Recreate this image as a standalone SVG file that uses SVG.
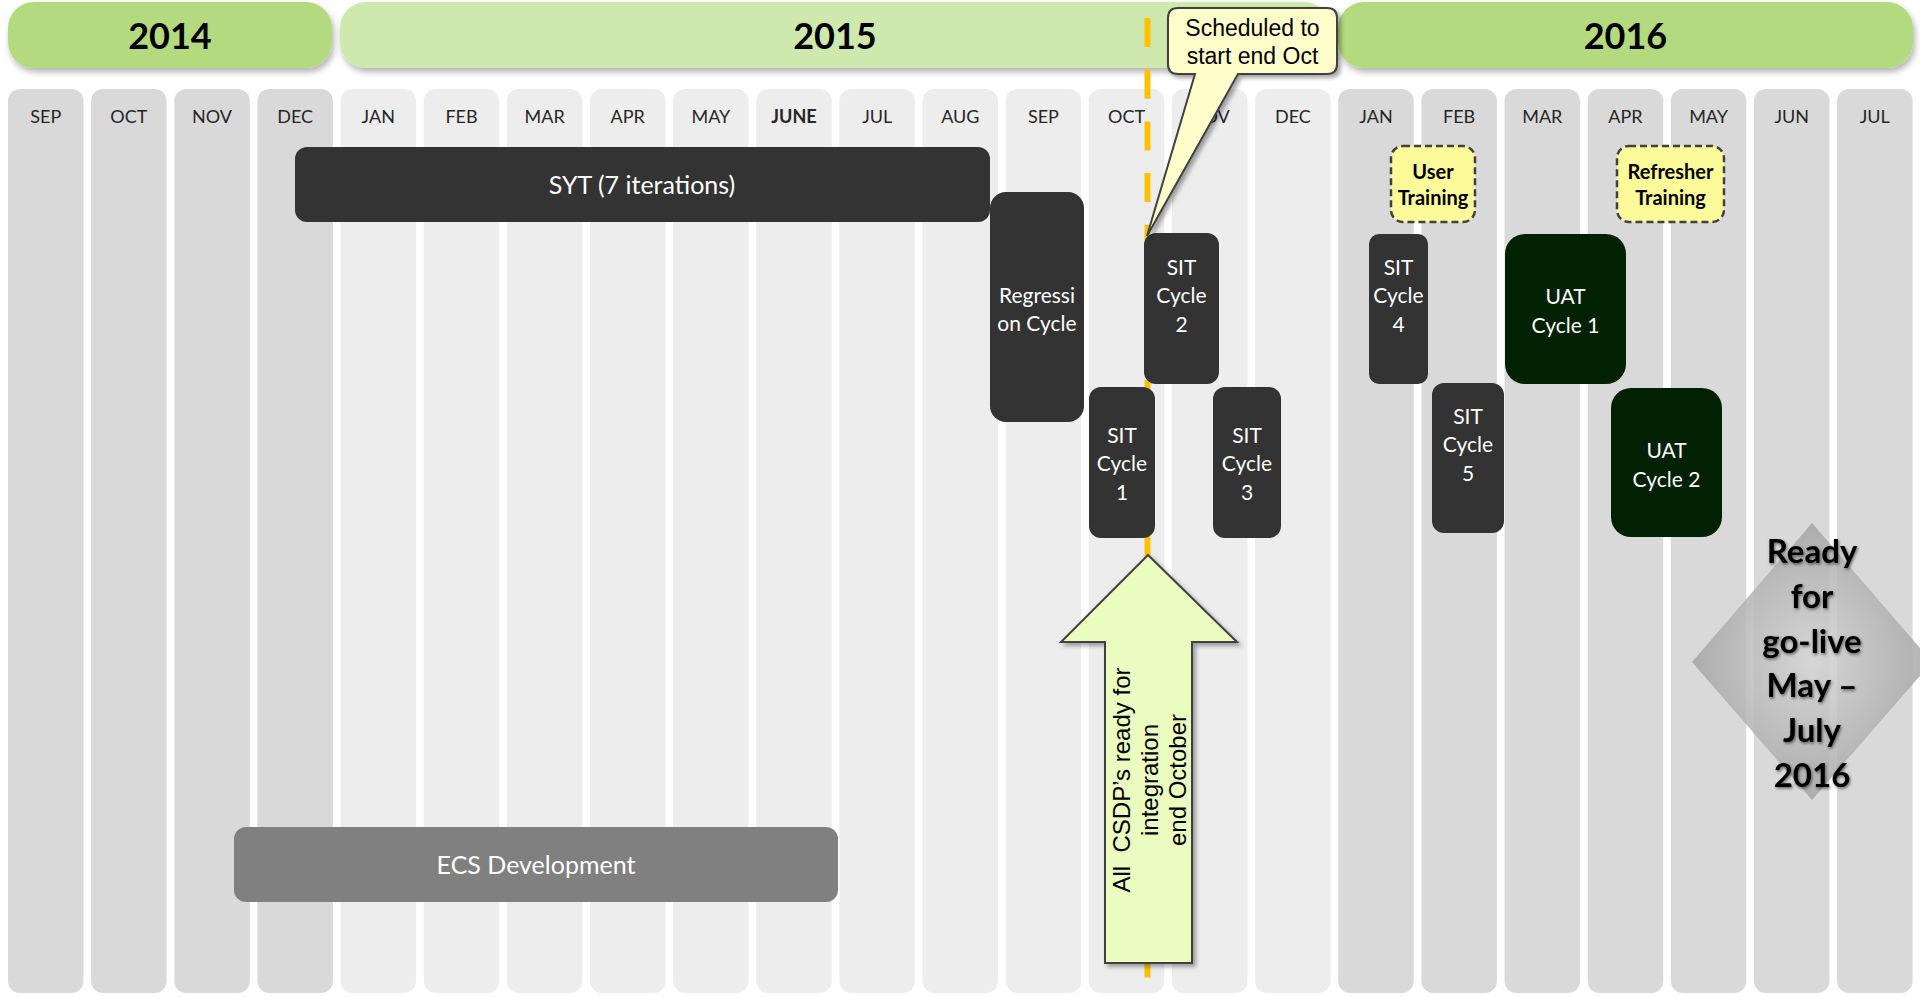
<svg xmlns="http://www.w3.org/2000/svg" width="1920" height="997" viewBox="0 0 1920 997">
<defs>
<style>
.c14{fill:#d9d9d9}
.c15{fill:#ededed}
.mon{font-family:Lato,"Open Sans",sans-serif;font-size:18px;fill:#262626;text-anchor:middle}
.yr{font-family:Lato,"Open Sans",sans-serif;font-size:36px;font-weight:bold;fill:#000;text-anchor:middle}
.blk{fill:#333333}
.uat{fill:#022102}
.bt{font-family:Lato,"Open Sans",sans-serif;font-size:21px;fill:#fff;text-anchor:middle}
.big{font-family:Lato,"Open Sans",sans-serif;font-size:25px;fill:#fff;text-anchor:middle}
.tr{fill:#fdfa99;stroke:#404040;stroke-width:2.5;stroke-dasharray:7 4}
.trt{font-family:Lato,"Open Sans",sans-serif;font-size:20px;font-weight:bold;fill:#000;text-anchor:middle}
.ar{font-family:"Liberation Sans",Arial,sans-serif;fill:#000;text-anchor:middle}
.dm{font-family:Lato,"Open Sans",sans-serif;font-size:33px;font-weight:bold;fill:#000;text-anchor:middle}
</style>
<filter id="sh" x="-10%" y="-20%" width="120%" height="150%"><feDropShadow dx="2" dy="4" stdDeviation="3" flood-color="#000" flood-opacity="0.3"/></filter>
<filter id="sh2" x="-20%" y="-10%" width="140%" height="130%"><feDropShadow dx="3" dy="3" stdDeviation="2" flood-color="#000" flood-opacity="0.35"/></filter>
<filter id="tsh" x="-20%" y="-20%" width="140%" height="140%"><feDropShadow dx="1" dy="1.5" stdDeviation="1.5" flood-color="#000" flood-opacity="0.55"/></filter>
<radialGradient id="dg" cx="0.5" cy="0.5" r="0.5">
<stop offset="0" stop-color="#d6d6d6"/>
<stop offset="1" stop-color="#a4a4a4"/>
</radialGradient>
</defs>

<g id="columns">
<rect class="c14" x="8" y="89" width="75.5" height="904" rx="12"/>
<rect class="c14" x="91.1" y="89" width="75.5" height="904" rx="12"/>
<rect class="c14" x="174.3" y="89" width="75.5" height="904" rx="12"/>
<rect class="c14" x="257.4" y="89" width="75.5" height="904" rx="12"/>
<rect class="c15" x="340.6" y="89" width="75.5" height="904" rx="12"/>
<rect class="c15" x="423.7" y="89" width="75.5" height="904" rx="12"/>
<rect class="c15" x="506.8" y="89" width="75.5" height="904" rx="12"/>
<rect class="c15" x="590" y="89" width="75.5" height="904" rx="12"/>
<rect class="c15" x="673.1" y="89" width="75.5" height="904" rx="12"/>
<rect class="c15" x="756.3" y="89" width="75.5" height="904" rx="12"/>
<rect class="c15" x="839.4" y="89" width="75.5" height="904" rx="12"/>
<rect class="c15" x="922.5" y="89" width="75.5" height="904" rx="12"/>
<rect class="c15" x="1005.7" y="89" width="75.5" height="904" rx="12"/>
<rect class="c15" x="1088.8" y="89" width="75.5" height="904" rx="12"/>
<rect class="c15" x="1172" y="89" width="75.5" height="904" rx="12"/>
<rect class="c15" x="1255.1" y="89" width="75.5" height="904" rx="12"/>
<rect class="c14" x="1338.2" y="89" width="75.5" height="904" rx="12"/>
<rect class="c14" x="1421.4" y="89" width="75.5" height="904" rx="12"/>
<rect class="c14" x="1504.5" y="89" width="75.5" height="904" rx="12"/>
<rect class="c14" x="1587.7" y="89" width="75.5" height="904" rx="12"/>
<rect class="c14" x="1670.8" y="89" width="75.5" height="904" rx="12"/>
<rect class="c14" x="1753.9" y="89" width="75.5" height="904" rx="12"/>
<rect class="c14" x="1837.1" y="89" width="75.5" height="904" rx="12"/>
<text class="mon" x="45.8" y="123">SEP</text>
<text class="mon" x="128.9" y="123">OCT</text>
<text class="mon" x="212" y="123">NOV</text>
<text class="mon" x="295.2" y="123">DEC</text>
<text class="mon" x="378.3" y="123">JAN</text>
<text class="mon" x="461.5" y="123">FEB</text>
<text class="mon" x="544.6" y="123">MAR</text>
<text class="mon" x="627.7" y="123">APR</text>
<text class="mon" x="710.9" y="123">MAY</text>
<text class="mon" x="794" y="123" font-weight="bold">JUNE</text>
<text class="mon" x="877.2" y="123">JUL</text>
<text class="mon" x="960.3" y="123">AUG</text>
<text class="mon" x="1043.4" y="123">SEP</text>
<text class="mon" x="1126.6" y="123">OCT</text>
<text class="mon" x="1209.7" y="123">NOV</text>
<text class="mon" x="1292.9" y="123">DEC</text>
<text class="mon" x="1376" y="123">JAN</text>
<text class="mon" x="1459.1" y="123">FEB</text>
<text class="mon" x="1542.3" y="123">MAR</text>
<text class="mon" x="1625.4" y="123">APR</text>
<text class="mon" x="1708.6" y="123">MAY</text>
<text class="mon" x="1791.7" y="123">JUN</text>
<text class="mon" x="1874.8" y="123">JUL</text>
</g>

<g id="year-2014"><rect x="8" y="2" width="324" height="66" rx="26" fill="#b4da7f" filter="url(#sh)"/><text class="yr" x="170" y="49">2014</text></g>
<g id="year-2015"><rect x="340" y="2" width="990" height="66" rx="26" fill="#cfe8ad" filter="url(#sh)"/><text class="yr" x="835" y="49">2015</text></g>
<g id="year-2016"><rect x="1338" y="2" width="575" height="66" rx="26" fill="#b4da7f" filter="url(#sh)"/><text class="yr" x="1625.5" y="49">2016</text></g>

<g id="connectors">
<line x1="1147.5" y1="18" x2="1147.5" y2="997" stroke="#ffc000" stroke-width="6" stroke-dasharray="29 22.7"/>
</g>

<g id="syt"><rect class="blk" x="295" y="147" width="695" height="75" rx="12"/><text class="big" x="642" y="194">SYT (7 iterations)</text></g>
<g id="ecs"><rect x="234" y="827" width="604" height="75" rx="12" fill="#808080"/><text class="big" x="536" y="874">ECS Development</text></g>
<g id="regression"><rect class="blk" x="990" y="192" width="94" height="230" rx="16"/><text class="bt" x="1037" y="302.5">Regressi</text><text class="bt" x="1037" y="330.5">on Cycle</text></g>
<g id="sit2"><rect class="blk" x="1144" y="233" width="75" height="151" rx="12"/><text class="bt"><tspan x="1181.5" y="274.5">SIT</tspan><tspan x="1181.5" y="303">Cycle</tspan><tspan x="1181.5" y="331.5">2</tspan></text></g>
<g id="sit1"><rect class="blk" x="1089" y="387" width="66" height="151" rx="12"/><text class="bt"><tspan x="1122" y="442.5">SIT</tspan><tspan x="1122" y="471">Cycle</tspan><tspan x="1122" y="499.5">1</tspan></text></g>
<g id="sit3"><rect class="blk" x="1213" y="387" width="68" height="151" rx="12"/><text class="bt"><tspan x="1247" y="442.5">SIT</tspan><tspan x="1247" y="471">Cycle</tspan><tspan x="1247" y="499.5">3</tspan></text></g>
<g id="sit4"><rect class="blk" x="1369" y="234" width="59" height="150" rx="10"/><text class="bt"><tspan x="1398.5" y="274.5">SIT</tspan><tspan x="1398.5" y="303">Cycle</tspan><tspan x="1398.5" y="331.5">4</tspan></text></g>
<g id="sit5"><rect class="blk" x="1432" y="383" width="72" height="150" rx="12"/><text class="bt"><tspan x="1468" y="423.5">SIT</tspan><tspan x="1468" y="452">Cycle</tspan><tspan x="1468" y="480.5">5</tspan></text></g>
<g id="uat1"><rect class="uat" x="1505" y="234" width="121" height="150" rx="20"/><text class="bt"><tspan x="1565.5" y="303.5">UAT</tspan><tspan x="1565.5" y="332.5">Cycle 1</tspan></text></g>
<g id="uat2"><rect class="uat" x="1611" y="388" width="111" height="149" rx="20"/><text class="bt"><tspan x="1666.5" y="457.5">UAT</tspan><tspan x="1666.5" y="486.5">Cycle 2</tspan></text></g>
<g id="user-training"><rect class="tr" x="1391" y="146" width="84" height="76" rx="12"/><text class="trt"><tspan x="1433" y="179">User</tspan><tspan x="1433" y="205">Training</tspan></text></g>
<g id="refresher-training"><rect class="tr" x="1617" y="146" width="107" height="76" rx="12"/><text class="trt"><tspan x="1670.5" y="179">Refresher</tspan><tspan x="1670.5" y="205">Training</tspan></text></g>

<g id="callout">
<path d="M1178,8 H1327 Q1337,8 1337,18 V64 Q1337,74 1327,74 H1238 L1147,236 L1195,74 H1178 Q1168,74 1168,64 V18 Q1168,8 1178,8 Z" fill="#ffffcc" stroke="#404040" stroke-width="2" filter="url(#sh2)"/>
<text class="ar" font-size="23"><tspan x="1252.5" y="36">Scheduled to</tspan><tspan x="1252.5" y="64">start end Oct</tspan></text>
</g>

<g id="ready-arrow">
<path d="M1148,555 L1237,642 L1192,642 L1192,963 L1105,963 L1105,642 L1061,642 Z" fill="#ebfcc0" stroke="#404040" stroke-width="2" filter="url(#sh2)"/>
<g transform="translate(1150,780) rotate(-90)">
<text class="ar" font-size="24" style="white-space:pre"><tspan x="0" y="-20">All  CSDP’s ready for</tspan><tspan x="0" y="8">integration</tspan><tspan x="0" y="36">end October</tspan></text>
</g>
</g>

<g id="go-live">
<path d="M1812,523 L1932,662 L1812,800 L1692,662 Z" fill="url(#dg)" opacity="0.85"/>
<g filter="url(#tsh)">
<text class="dm"><tspan x="1812" y="563">Ready</tspan><tspan x="1812" y="608">for</tspan><tspan x="1812" y="652.5">go-live</tspan><tspan x="1812" y="697">May –</tspan><tspan x="1812" y="742">July</tspan><tspan x="1812" y="787">2016</tspan></text>
</g>
</g>
</svg>
